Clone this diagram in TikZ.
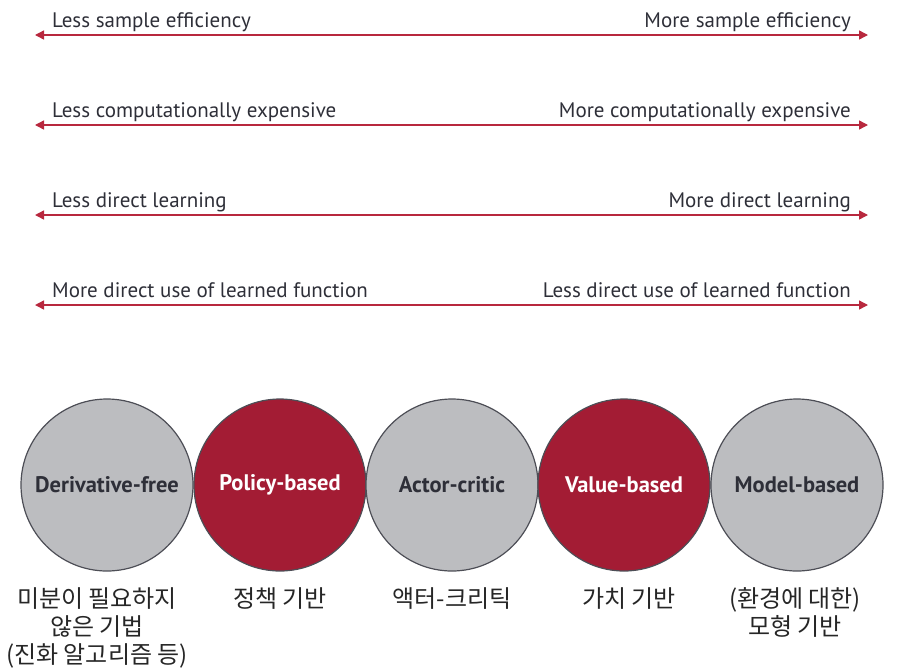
\documentclass[tikz,border=0pt]{standalone}
\usepackage{fontspec}
\setmainfont{PT Sans}
\newfontfamily\kofont{Noto Sans CJK KR}
\usetikzlibrary{arrows.meta}
\definecolor{barred}{HTML}{B8283E}
\definecolor{discred}{HTML}{A31C34}
\definecolor{discgray}{HTML}{BCBDC0}
\definecolor{inkgray}{HTML}{2E2F38}
\tikzset{
  scaleline/.style={draw=barred,line width=1.4pt,{Triangle[length=9pt,width=9pt]}-{Triangle[length=9pt,width=9pt]}},
  scalelabel/.style={font=\fontsize{21}{24}\selectfont,text=inkgray,inner sep=0pt},
  disc/.style={circle,draw=inkgray!85,line width=1.2pt,minimum size=172pt,inner sep=0pt,
    font=\fontsize{22.5}{26}\selectfont\bfseries},
  graydisc/.style={disc,fill=discgray,text=inkgray},
  reddisc/.style={disc,fill=discred,text=white},
  kolabel/.style={font=\kofont\fontsize{24}{28}\selectfont,text=black!85,align=center,anchor=north,inner sep=0pt}
}
\begin{document}
\begin{tikzpicture}[x=1pt,y=-1pt]
	\useasboundingbox (0,0) rectangle (915,670);
	% scales
	\foreach \i/\yy/\lefttext/\righttext in {
		1/35/Less sample efficiency/More sample efficiency,
		2/125/Less computationally expensive/More computationally expensive,
		3/215/Less direct learning/More direct learning,
		4/305/More direct use of learned function/Less direct use of learned function}{
		\coordinate (l\i) at (35,\yy);
		\coordinate (r\i) at (868,\yy);
		\draw[scaleline] (l\i) -- (r\i);
		\node[scalelabel,anchor=base west] (lt\i) at (52,\yy-8) {\lefttext};
		\node[scalelabel,anchor=base east] (rt\i) at (851,\yy-8) {\righttext};
	}
	% methods
	\node[graydisc] (dfree) at (107,485) {Derivative-free};
	\node[reddisc] (policy) at (280,485) {Policy-based};
	\node[graydisc] (actor) at (452,485) {Actor-critic};
	\node[reddisc] (value) at (624,485) {Value-based};
	\node[graydisc] (model) at (797,485) {Model-based};
	% korean names
	\node[kolabel] (kdfree) at (97,587) {미분이 필요하지\\않은 기법\\(진화 알고리즘 등)};
	\node[kolabel] (kpolicy) at (280,587) {정책 기반};
	\node[kolabel] (kactor) at (452,587) {액터-크리틱};
	\node[kolabel] (kvalue) at (629,587) {가치 기반};
	\node[kolabel] (kmodel) at (795,587) {(환경에 대한)\\모형 기반};
\end{tikzpicture}
\end{document}
